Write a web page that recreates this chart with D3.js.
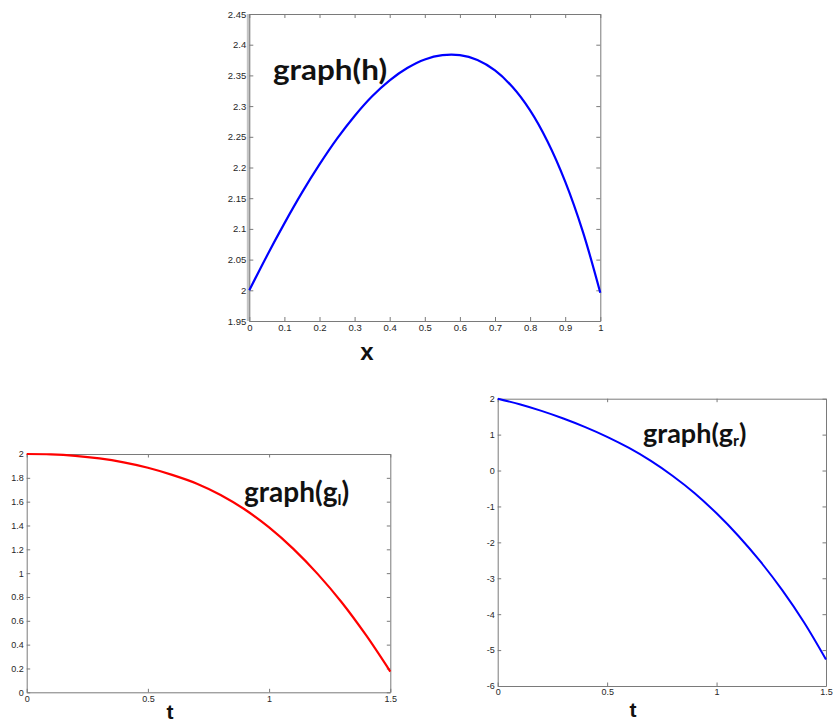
<!DOCTYPE html>
<html>
<head>
<meta charset="utf-8">
<script src="https://cdn.jsdelivr.net/npm/d3@7"></script>
<style>
  html, body { margin: 0; padding: 0; background: #fff; }
  svg { display: block; }
  .tick text { font-family: "Liberation Sans", Arial, sans-serif; fill: #262626; }
  .big { font-family: Lato, "Open Sans", sans-serif; font-weight: 700; fill: #111; }
  .axlab { font-family: "Liberation Sans", Arial, sans-serif; font-weight: 700; fill: #111; }
</style>
</head>
<body>
<svg id="fig" width="834" height="723"></svg>
<script>
// h(x) sampled on [0, 1]
const hX = [0, 0.05, 0.1, 0.15, 0.2, 0.25, 0.3, 0.35, 0.4, 0.45, 0.5,
            0.55, 0.6, 0.65, 0.7, 0.75, 0.8, 0.85, 0.9, 0.95, 1.0];
const hY = [2.000, 2.056, 2.109, 2.159, 2.205, 2.247, 2.284, 2.316, 2.342, 2.362, 2.376,
            2.383, 2.383, 2.375, 2.358, 2.331, 2.293, 2.242, 2.177, 2.096, 1.996];

// g_l(t) and g_r(t) sampled on [0, 1.5]
const tVals = [0, 0.1, 0.2, 0.3, 0.4, 0.5, 0.6, 0.7, 0.8, 0.9, 1.0, 1.1, 1.2, 1.3, 1.4, 1.5];
const glY = [2.0, 1.997, 1.985, 1.963, 1.930, 1.885, 1.825, 1.753, 1.656, 1.534,
             1.384, 1.204, 0.994, 0.754, 0.479, 0.174];
const grY = [2.0, 1.845, 1.66, 1.448, 1.208, 0.938, 0.628, 0.268, -0.152, -0.632,
             -1.192, -1.822, -2.532, -3.332, -4.232, -5.262];

// tick values
const hXTicks = [0, 0.1, 0.2, 0.3, 0.4, 0.5, 0.6, 0.7, 0.8, 0.9, 1];
const hYTicks = [1.95, 2, 2.05, 2.1, 2.15, 2.2, 2.25, 2.3, 2.35, 2.4, 2.45];
const tTicks = [0, 0.5, 1, 1.5];
const glYTicks = [0, 0.2, 0.4, 0.6, 0.8, 1, 1.2, 1.4, 1.6, 1.8, 2];
const grYTicks = [-6, -5, -4, -3, -2, -1, 0, 1, 2];

const svg = d3.select("#fig");
const fmt = d => String(+d.toFixed(2));

function panel(cfg) {
  const x = d3.scaleLinear().domain(cfg.xDomain).range([cfg.left, cfg.right]);
  const y = d3.scaleLinear().domain(cfg.yDomain).range([cfg.bottom, cfg.top]);
  const g = svg.append("g");

  if (cfg.leftShade) {
    g.append("line")
      .attr("x1", cfg.left - 1).attr("x2", cfg.left - 1)
      .attr("y1", cfg.top).attr("y2", cfg.bottom)
      .attr("stroke", "#c4c4c4").attr("stroke-width", 3);
  }

  const axes = [
    { ax: d3.axisBottom(x).tickValues(cfg.xTicks).tickFormat(fmt), tr: `translate(0,${cfg.bottom})` },
    { ax: d3.axisTop(x).tickValues(cfg.xTicks).tickFormat(""), tr: `translate(0,${cfg.top})` },
    { ax: d3.axisLeft(y).tickValues(cfg.yTicks).tickFormat(fmt), tr: `translate(${cfg.left},0)` },
    { ax: d3.axisRight(y).tickValues(cfg.yTicks).tickFormat(""), tr: `translate(${cfg.right},0)` }
  ];
  axes.forEach(a => {
    a.ax.tickSizeInner(-cfg.tick).tickSizeOuter(0).tickPadding(cfg.pad);
    const ag = g.append("g").attr("transform", a.tr).call(a.ax);
    ag.select(".domain").attr("stroke", "#7a7a7a").attr("stroke-width", 1);
    ag.selectAll(".tick line").attr("stroke", "#7a7a7a");
    ag.selectAll(".tick text").style("font-size", cfg.fs + "px");
  });

  const line = d3.line()
    .x(d => x(d[0])).y(d => y(d[1]))
    .curve(d3.curveCatmullRom);
  g.append("path")
    .datum(cfg.xs.map((v, i) => [v, cfg.ys[i]]))
    .attr("fill", "none")
    .attr("stroke", cfg.color)
    .attr("stroke-width", cfg.lw)
    .attr("stroke-linejoin", "round")
    .attr("d", line);

  return { x, y, g };
}

// top panel: graph(h)
const pH = panel({
  left: 249.3, right: 600.3, top: 14, bottom: 321,
  xDomain: [0, 1], yDomain: [1.95, 2.45],
  xTicks: hXTicks, yTicks: hYTicks, tick: 4, pad: 3, fs: 9.5,
  xs: hX, ys: hY, color: "#0000ff", lw: 2.2, leftShade: true
});
pH.g.append("text").attr("class", "big")
  .attr("x", 273).attr("y", 80).style("font-size", "28px")
  .attr("textLength", 114).attr("lengthAdjust", "spacingAndGlyphs")
  .text("graph(h)");
pH.g.append("text").attr("class", "axlab")
  .attr("x", 367).attr("y", 360).attr("text-anchor", "middle")
  .style("font-size", "24px").text("x");

// bottom-left panel: graph(g_l)
const pL = panel({
  left: 26.7, right: 390.3, top: 454, bottom: 692.3,
  xDomain: [0, 1.5], yDomain: [0, 2],
  xTicks: tTicks, yTicks: glYTicks, tick: 3.5, pad: 3, fs: 9,
  xs: tVals, ys: glY, color: "#ff0000", lw: 2.2
});
const tl = pL.g.append("text").attr("class", "big")
  .attr("x", 244).attr("y", 502).style("font-size", "28px");
tl.append("tspan").text("graph(g");
tl.append("tspan").attr("dy", 3).style("font-size", "16px").text("l");
tl.append("tspan").attr("dy", -3).text(")");
pL.g.append("text").attr("class", "axlab")
  .attr("x", 170).attr("y", 719).attr("text-anchor", "middle")
  .style("font-size", "21px").text("t");

// bottom-right panel: graph(g_r)
const pR = panel({
  left: 497.7, right: 826, top: 398.7, bottom: 686,
  xDomain: [0, 1.5], yDomain: [-6, 2],
  xTicks: tTicks, yTicks: grYTicks, tick: 3.5, pad: 3, fs: 9,
  xs: tVals, ys: grY, color: "#0000ff", lw: 2
});
const tr = pR.g.append("text").attr("class", "big")
  .attr("x", 643).attr("y", 443).style("font-size", "27px");
tr.append("tspan").text("graph(g");
tr.append("tspan").attr("dy", 3).style("font-size", "16px").text("r");
tr.append("tspan").attr("dy", -3).text(")");
pR.g.append("text").attr("class", "axlab")
  .attr("x", 633).attr("y", 717).attr("text-anchor", "middle")
  .style("font-size", "21px").text("t");
</script>
</body>
</html>
